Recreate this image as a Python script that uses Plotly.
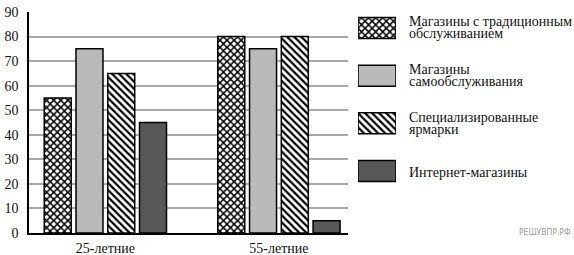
import plotly.graph_objects as go

categories = ["25-летние", "55-летние"]
series_names = [
    "Магазины с традиционным<br>обслуживанием",
    "Магазины<br>самообслуживания",
    "Специализированные<br>ярмарки",
    "Интернет-магазины",
]
traditional = [55, 80]
self_service = [75, 75]
fairs = [65, 80]
internet = [45, 5]
y_ticks = [0, 10, 20, 30, 40, 50, 60, 70, 80, 90]

values = [traditional, self_service, fairs, internet]
styles = [
    dict(color="white", pattern=dict(shape="x", size=5, solidity=0.5, fgcolor="black", bgcolor="white")),
    dict(color="#bababa"),
    dict(color="white", pattern=dict(shape="\\", size=5, solidity=0.45, fgcolor="black", bgcolor="white")),
    dict(color="#585858"),
]

W, H = 574, 255
FONT = "Liberation Serif"

fig = go.Figure()
for name, vals, st in zip(series_names, values, styles):
    fig.add_trace(go.Bar(
        x=categories, y=vals, name=name,
        marker=dict(line=dict(color="black", width=1.5), **st),
        showlegend=False, xaxis="x", yaxis="y",
    ))

# legend swatches drawn on an auxiliary axis
for i, (name, st) in enumerate(zip(series_names, styles)):
    fig.add_trace(go.Bar(
        x=[1], y=[i], base=0, orientation="h", width=0.44,
        marker=dict(line=dict(color="black", width=1.5), **st),
        showlegend=False, xaxis="x2", yaxis="y2", hoverinfo="skip",
    ))

annotations = []
for i, name in enumerate(series_names):
    lines = name.split("<br>")
    if len(lines) == 2:
        shifts = [6, -6]
    else:
        shifts = [-1]
    for ln, sh in zip(lines, shifts):
        annotations.append(dict(
            x=407 / W, xref="paper", xanchor="left",
            y=i, yref="y2", yanchor="middle", yshift=sh,
            text=ln, showarrow=False,
            font=dict(family=FONT, size=14, color="#111"),
        ))

annotations.append(dict(
    x=573 / W, xref="paper", xanchor="right",
    y=(H - 232) / H, yref="paper", yanchor="middle",
    text="РЕШУВПР.РФ", showarrow=False,
    font=dict(family="DejaVu Sans Condensed, DejaVu Sans", size=8.5, color="#9a9a9a"),
))

fig.update_layout(
    template="none",
    width=W, height=H,
    margin=dict(l=0, r=0, t=0, b=0, autoexpand=False),
    paper_bgcolor="white", plot_bgcolor="white",
    font=dict(family=FONT),
    barmode="group", bargap=0.268, bargroupgap=0.15,
    xaxis=dict(
        domain=[29 / W, 348 / W], type="category",
        range=[-0.44, 1.398], automargin=False,
        showgrid=False, showline=True, linecolor="black", linewidth=1.5,
        ticks="", tickfont=dict(family=FONT, size=14, color="#111"),
        ticklabelstandoff=1,
    ),
    yaxis=dict(
        domain=[(H - 233) / H, (H - 12) / H], automargin=False,
        range=[0, 90], tickvals=y_ticks,
        showgrid=True, gridcolor="#a8a8a8", gridwidth=1.5,
        showline=True, linecolor="black", linewidth=1.5,
        zeroline=False, ticks="",
        tickfont=dict(family=FONT, size=14, color="#111"),
        ticklabelstandoff=6,
    ),
    xaxis2=dict(domain=[358 / W, 396 / W], range=[0, 1], visible=False,
                fixedrange=True, anchor="y2", automargin=False),
    yaxis2=dict(domain=[0, 1], range=[4.762, -0.587], visible=False,
                fixedrange=True, anchor="x2", automargin=False),
    annotations=annotations,
)

fig.write_html("out.html")
